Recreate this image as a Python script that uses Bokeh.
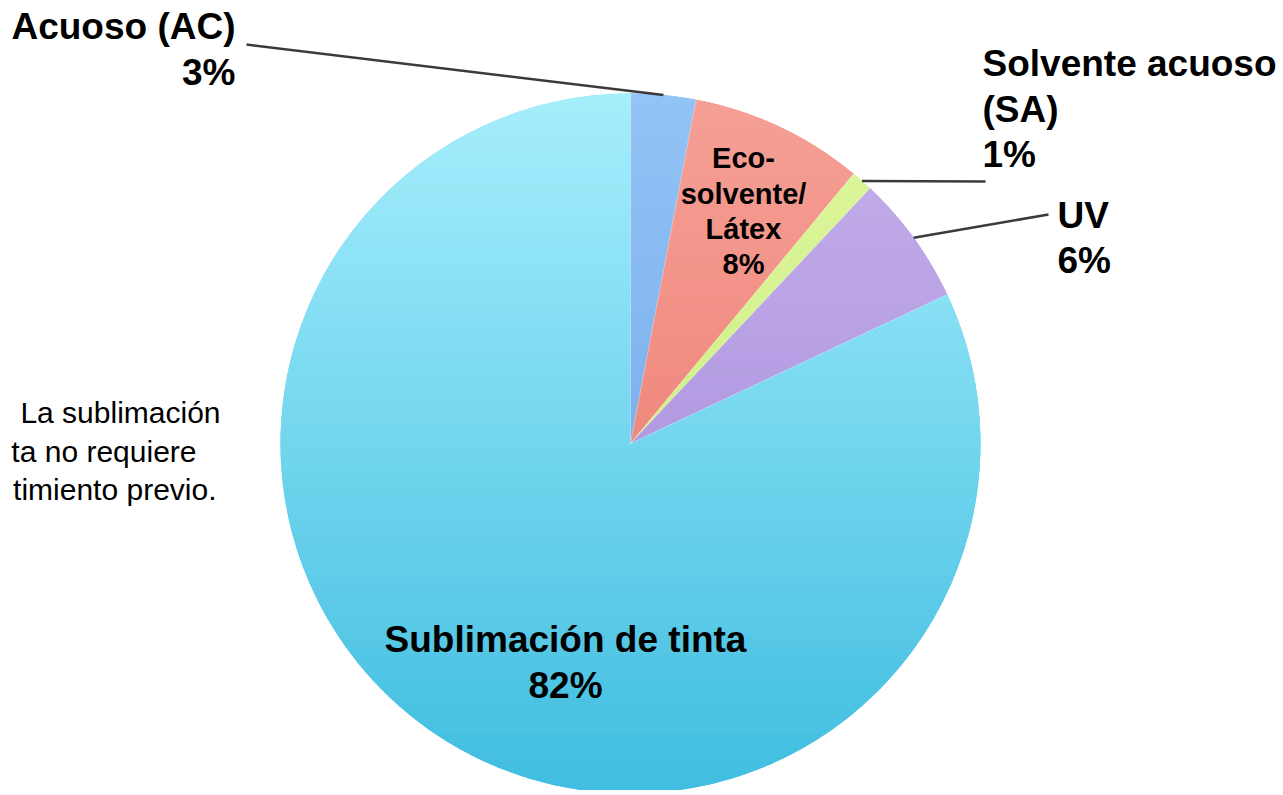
import numpy as np
from bokeh.plotting import figure
from bokeh.models import Range1d
from bokeh.core.properties import value
from bokeh.embed import file_html
from bokeh.resources import INLINE

# ---- data ----
categories = ["Acuoso (AC)", "Eco-solvente/Látex", "Solvente acuoso (SA)", "UV", "Sublimación de tinta"]
values = [3, 8, 1, 6, 82]
pct_labels = ["3%", "8%", "1%", "6%", "82%"]
top_colors = ["#92c4f6", "#f6a096", "#def69e", "#c6b0ec", "#a6eefc"]
bottom_colors = ["#6a9ce6", "#ea7064", "#c4ea74", "#9c84d6", "#3fbde0"]
mid_colors = ["#80b2ef", "#f28a80", "#d4f28a", "#b59ce2", "#66d0ec"]

FONT = value("Liberation Sans")
W, H = 1280, 790
CX, CY, R = 630, 352, 350          # pie centre / radius (data units = pixels)


def sy(y):
    """screen y -> data y"""
    return 795 - y


p = figure(width=W, height=H, output_backend="svg", toolbar_location=None,
           x_range=Range1d(0, W), y_range=Range1d(795 - H, 795),
           x_axis_type=None, y_axis_type=None, min_border=0)
p.grid.visible = False
p.outline_line_color = None
p.background_fill_color = "white"
p.border_fill_color = "white"

frac = np.array(values, dtype=float) / sum(values)
cum = np.concatenate([[0.0], np.cumsum(frac)])
start = np.pi / 2 - 2 * np.pi * cum[:-1]
end = np.pi / 2 - 2 * np.pi * cum[1:]
mid = (start + end) / 2

# base wedges
p.wedge(x=[CX] * len(values), y=[CY] * len(values), radius=R,
        start_angle=list(start), end_angle=list(end), direction="clock",
        fill_color=mid_colors, line_color=None)


# vertical gradient overlay built from the same slice geometry
def clip(poly, yc, keep_below):
    out = []
    n = len(poly)
    for i in range(n):
        a, b = poly[i], poly[(i + 1) % n]
        ina = a[1] <= yc if keep_below else a[1] >= yc
        inb = b[1] <= yc if keep_below else b[1] >= yc
        if ina:
            out.append(a)
        if ina != inb:
            t = (yc - a[1]) / (b[1] - a[1])
            out.append((a[0] + t * (b[0] - a[0]), yc))
    return out


def hex2rgb(h):
    return np.array([int(h[i:i + 2], 16) for i in (1, 3, 5)], dtype=float)


def lerp(c0, c1, t):
    c = hex2rgb(c0) * (1 - t) + hex2rgb(c1) * t
    return "#%02x%02x%02x" % tuple(int(round(v)) for v in c)


NB = 80
xs, ys, cols = [], [], []
for i in range(len(values)):
    n = max(8, int(abs(end[i] - start[i]) / (2 * np.pi) * 500))
    ang = np.linspace(start[i], end[i], n)
    poly = [(CX, CY)] + [(CX + R * np.cos(a), CY + R * np.sin(a)) for a in ang]
    for k in range(NB):
        y0 = CY - R + k * 2 * R / NB
        y1 = y0 + 2 * R / NB
        q = clip(clip(poly, y0 - 0.6, False), y1 + 0.6, True)
        if len(q) < 3:
            continue
        t = (CY + R - (y0 + y1) / 2) / (2 * R)
        xs.append([pt[0] for pt in q])
        ys.append([pt[1] for pt in q])
        cols.append(lerp(top_colors[i], bottom_colors[i], t))
p.patches(xs=xs, ys=ys, fill_color=cols, line_color=None)

# thin light separators between slices
for a in start:
    p.segment(x0=[CX], y0=[CY], x1=[CX + R * np.cos(a)], y1=[CY + R * np.sin(a)],
              line_color="white", line_alpha=0.3, line_width=1)

# leader lines (start on slice mid-angle, end at the label)
leader_ends = {0: (246, sy(44)), 2: (985, sy(181)), 3: (1048, sy(214))}
for i, (ex, ey) in leader_ends.items():
    p.line(x=[CX + R * np.cos(mid[i]), ex], y=[CY + R * np.sin(mid[i]), ey],
           line_color="#3a3a3a", line_width=2.5)


# labels (y given as screen baseline; corrected for the renderer's baseline offset)
def txt(x, y, s, size, align="left", bold=True, color="black"):
    yb = y - 0.33 * size
    p.text(x=[x], y=[sy(yb)], text=[s], text_font=FONT, text_font_size=f"{size}px",
           text_font_style="bold" if bold else "normal", text_align=align,
           text_baseline="alphabetic", text_color=color)


txt(235, 38, "Acuoso (AC)", 37, "right")
txt(235, 84, pct_labels[0], 37, "right")

txt(982, 75, "Solvente acuoso", 37)
txt(982, 121, "(SA)", 37)
txt(982, 166, pct_labels[2], 37)

txt(1057, 227, "UV", 37)
txt(1057, 272, pct_labels[3], 37)

for s, b in zip(["Eco-", "solvente/", "Látex", pct_labels[1]], [167, 203, 238, 273]):
    txt(743, b, s, 29, "center")

txt(565, 651, "Sublimación de tinta", 37, "center")
txt(565, 697, pct_labels[4], 37, "center")

# side note (cut off at the left edge in the original)
txt(220, 422, "La sublimación", 30, "right", bold=False)
txt(196, 461, "ta no requiere", 30, "right", bold=False)
txt(216, 499, "timiento previo.", 30, "right", bold=False)

open("out.html", "w").write(file_html(p, INLINE))
